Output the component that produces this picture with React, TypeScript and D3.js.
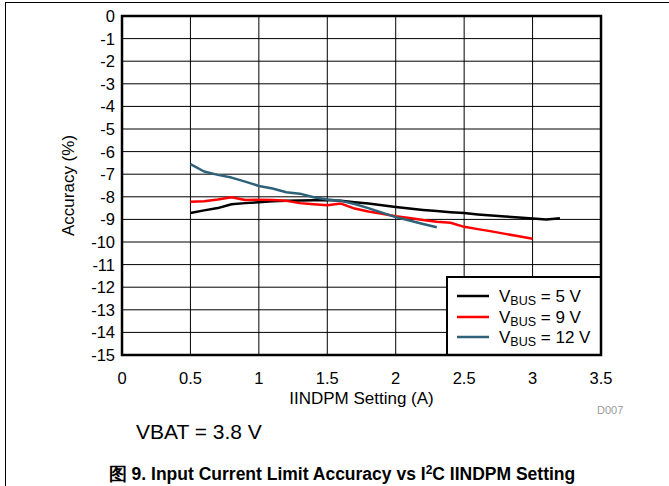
import React from "react";
import * as d3 from "d3";

const xTicks = [0, 0.5, 1, 1.5, 2, 2.5, 3, 3.5];
const yTicks = [0, -1, -2, -3, -4, -5, -6, -7, -8, -9, -10, -11, -12, -13, -14, -15];

const xs5 = [0.5, 0.6, 0.7, 0.8, 0.9, 1.0, 1.1, 1.2, 1.3, 1.4, 1.5, 1.6, 1.7, 1.8, 1.9, 2.0, 2.1, 2.2, 2.3, 2.4, 2.5, 2.6, 2.7, 2.8, 2.9, 3.0, 3.1, 3.2];
const vbus5 = [-8.72, -8.6, -8.5, -8.33, -8.28, -8.24, -8.2, -8.18, -8.16, -8.15, -8.14, -8.18, -8.24, -8.3, -8.37, -8.45, -8.52, -8.58, -8.63, -8.68, -8.72, -8.78, -8.83, -8.87, -8.92, -8.96, -9.0, -8.95];

const xs9 = [0.5, 0.6, 0.7, 0.8, 0.9, 1.0, 1.1, 1.2, 1.3, 1.4, 1.5, 1.6, 1.7, 1.8, 1.9, 2.0, 2.1, 2.2, 2.3, 2.4, 2.5, 2.6, 2.7, 2.8, 2.9, 3.0];
const vbus9 = [-8.22, -8.2, -8.12, -8.02, -8.14, -8.13, -8.14, -8.18, -8.28, -8.33, -8.37, -8.3, -8.52, -8.65, -8.75, -8.86, -8.94, -9.03, -9.1, -9.15, -9.33, -9.43, -9.53, -9.64, -9.75, -9.86];

const xs12 = [0.5, 0.6, 0.7, 0.8, 0.9, 1.0, 1.1, 1.2, 1.3, 1.4, 1.5, 1.6, 1.7, 1.8, 1.9, 2.0, 2.1, 2.2, 2.3];
const vbus12 = [-6.55, -6.88, -7.03, -7.15, -7.33, -7.52, -7.63, -7.8, -7.86, -8.02, -8.12, -8.18, -8.32, -8.5, -8.7, -8.9, -9.05, -9.2, -9.35];

const seriesNames = ["5 V", "9 V", "12 V"];
const seriesColors = ["#000000", "#ff0000", "#2f6279"];

const FONT = "'Liberation Sans', Arial, sans-serif";

export default function App() {
  const left = 122, right = 601, top = 16, bottom = 355;
  const x = d3.scaleLinear().domain([0, 3.5]).range([left, right]);
  const y = d3.scaleLinear().domain([0, -15]).range([top, bottom]);

  const series = [
    xs5.map((v, i) => [v, vbus5[i]] as [number, number]),
    xs9.map((v, i) => [v, vbus9[i]] as [number, number]),
    xs12.map((v, i) => [v, vbus12[i]] as [number, number]),
  ];
  const line = d3.line<[number, number]>().x((d) => x(d[0])).y((d) => y(d[1]));

  const legX = 447, legY = 277;
  const rowY = [296, 317, 337];

  return (
    <svg width={669} height={486} style={{ position: "fixed", left: 0, top: 0, background: "#fff" }} fontFamily={FONT}>
      <rect x={0} y={0} width={669} height={486} fill="#fff" />
      <rect x={5.5} y={2.5} width={700} height={500} fill="none" stroke="#000" strokeWidth={1} />

      {/* grid */}
      {xTicks.slice(1, -1).map((t) => (
        <line key={"gx" + t} x1={x(t)} x2={x(t)} y1={top} y2={bottom} stroke="#000" strokeWidth={1} />
      ))}
      {yTicks.slice(1, -1).map((t) => (
        <line key={"gy" + t} x1={left} x2={right} y1={y(t)} y2={y(t)} stroke="#000" strokeWidth={1} />
      ))}

      {/* series */}
      {series.map((s, i) => (
        <path key={i} d={line(s) || ""} fill="none" stroke={seriesColors[i]} strokeWidth={2.5} strokeLinejoin="round" />
      ))}

      {/* legend */}
      <rect x={legX} y={legY} width={right - legX} height={bottom - legY} fill="#fff" stroke="#000" strokeWidth={2} />
      {seriesNames.map((n, i) => (
        <g key={n}>
          <line x1={457} x2={489} y1={rowY[i]} y2={rowY[i]} stroke={seriesColors[i]} strokeWidth={2.5} />
          <text x={499} y={rowY[i] + 6} fontSize={17} fill="#000">
            V<tspan fontSize={12.5} dy={3}>BUS</tspan>
            <tspan dy={-3}> = {n}</tspan>
          </text>
        </g>
      ))}

      {/* frame */}
      <rect x={left} y={top} width={right - left} height={bottom - top} fill="none" stroke="#000" strokeWidth={2.5} />

      {/* y ticks */}
      {yTicks.map((t) => (
        <text key={"yt" + t} x={115} y={y(t) + 6} textAnchor="end" fontSize={16.5} fill="#000">
          {t}
        </text>
      ))}
      {/* x ticks */}
      {xTicks.map((t) => (
        <text key={"xt" + t} x={x(t)} y={384} textAnchor="middle" fontSize={16.5} fill="#000">
          {t}
        </text>
      ))}

      <text x={(left + right) / 2} y={404} textAnchor="middle" fontSize={17} fill="#000">
        IINDPM Setting (A)
      </text>
      <text transform={`translate(68,${(top + bottom) / 2}) rotate(-90)`} textAnchor="middle" dy="0.35em" fontSize={17} fill="#000">
        Accuracy (%)
      </text>
      <text x={597} y={414} fontSize={11} fill="#9a9a9a">
        D007
      </text>
      <text x={136} y={439} fontSize={21} fill="#000">
        VBAT = 3.8 V
      </text>
      <text x={342} y={480} textAnchor="middle" fontSize={17.5} fontWeight="bold" fill="#000">
        图 9. Input Current Limit Accuracy vs I<tspan fontSize={12} dy={-6}>2</tspan>
        <tspan dy={6}>C IINDPM Setting</tspan>
      </text>
    </svg>
  );
}
